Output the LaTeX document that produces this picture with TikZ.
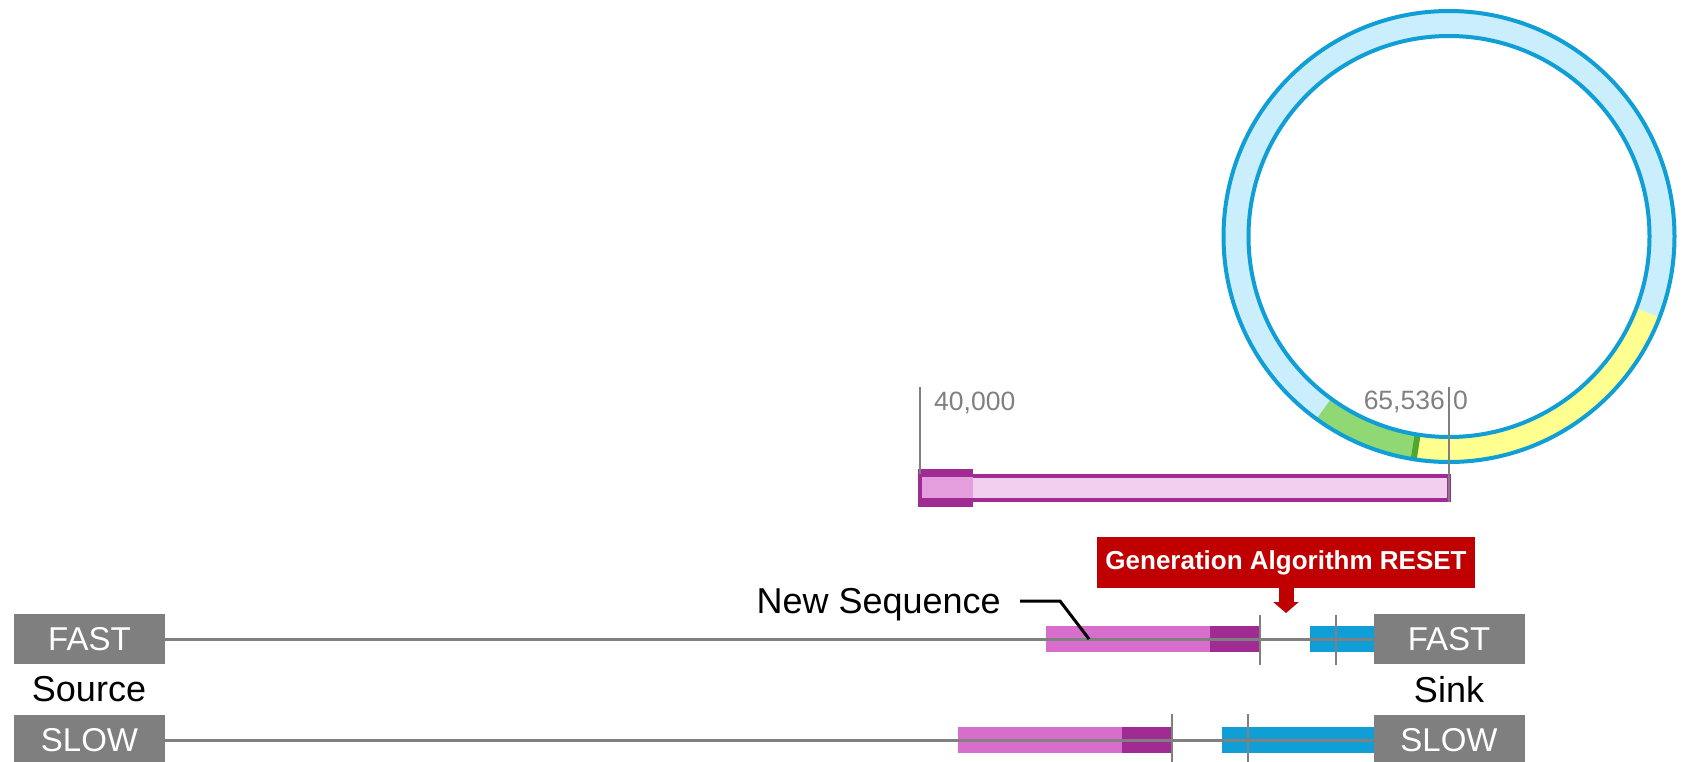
\documentclass[tikz,border=0pt]{standalone}
\usepackage{fontspec}
\setmainfont{Liberation Sans}
\usetikzlibrary{arrows.meta}

\definecolor{ringblue}{RGB}{15,158,213}
\definecolor{ringfill}{RGB}{202,238,251}
\definecolor{ringyellow}{RGB}{255,255,143}
\definecolor{ringgreen}{RGB}{143,216,115}
\definecolor{darkgreen}{RGB}{78,167,46}
\definecolor{seqpurple}{RGB}{160,43,147}
\definecolor{seqpink}{RGB}{216,110,204}
\definecolor{barpink}{RGB}{242,207,238}
\definecolor{blockpink}{RGB}{228,158,221}
\definecolor{boxgray}{RGB}{127,127,127}
\definecolor{linegray}{RGB}{128,128,128}
\definecolor{resetred}{RGB}{192,0,0}

\tikzset{
  endbox/.style={fill=boxgray, text=white, minimum width=151, minimum height=50, inner sep=0pt, font=\fontsize{33}{39}\selectfont},
  wire/.style={draw=linegray, line width=3},
  cutline/.style={draw=linegray, line width=2},
  lbl/.style={inner sep=0pt, font=\fontsize{36}{43}\selectfont},
  numlbl/.style={text=linegray, inner sep=0pt, font=\fontsize{26.5}{31}\selectfont},
  seqleader/.style={draw=black, line width=3},
  resetbox/.style={fill=resetred, text=white, minimum width=378, minimum height=51, inner sep=0pt, font=\fontsize{26}{31}\selectfont\bfseries},
  resetarrow/.style={draw=resetred, line width=15, -{Triangle[width=25pt,length=11pt]}},
}

\begin{document}
\begin{tikzpicture}[x=1pt,y=1pt,yscale=-1,xscale=1]
\useasboundingbox (0,0) rectangle (1682,761);
\clip (0,0) rectangle (1682,761);

% counter ring
\draw [ringfill, line width=25] (1449,236.5) circle (213);
\draw [ringyellow, line width=25] (1449,236.5) ++(21:213) arc (21:99:213);
\draw [ringgreen, line width=25] (1449,236.5) ++(99:213) arc (99:126:213);
\draw [darkgreen, line width=25] (1449,236.5) ++(98.2:213) arc (98.2:99.8:213);
\draw [ringblue, line width=4] (1449,236.5) circle (225.5) (1449,236.5) circle (200.5);

% window bar
\draw [seqpurple, fill=barpink, line width=4] (921,476) rectangle (1449,500);
\fill [seqpurple] (918,469) rectangle (973,507);
\fill [blockpink] (922,477) rectangle (973,498);
\draw [cutline] (920,387) -- (920,474);
\draw [cutline] (1449,387) -- (1449,502);
\draw (934,410) node [numlbl, anchor=base west] (lo) {40,000};
\draw (1445,409) node [numlbl, anchor=base east] (hi) {65,536};
\draw (1453,409) node [numlbl, anchor=base west] (zero) {0};

% sources and sinks
\draw (89.5,639) node [endbox] (fastsrc) {FAST};
\draw (1449,639) node [endbox] (fastsnk) {FAST};
\draw (89.5,740) node [endbox] (slowsrc) {SLOW};
\draw (1449,740) node [endbox] (slowsnk) {SLOW};
\draw (89,701) node [lbl, anchor=base] (src) {Source};
\draw (1449,702) node [lbl, anchor=base] (snk) {Sink};

% fast stream
\fill [seqpink] (1046,626) rectangle (1210,652);
\fill [seqpurple] (1210,626) rectangle (1260,652);
\fill [ringblue] (1310,626) rectangle (1373.5,652);
\draw [wire] (fastsrc) -- (fastsnk);
\draw [cutline] (1260,615) -- (1260,665);
\draw [cutline] (1336,615) -- (1336,665);

% slow stream
\fill [seqpink] (958,727) rectangle (1122,753);
\fill [seqpurple] (1122,727) rectangle (1172,753);
\fill [ringblue] (1222,727) rectangle (1373.5,753);
\draw [wire] (slowsrc) -- (slowsnk);
\draw [cutline] (1172,714) -- (1172,765);
\draw [cutline] (1248,714) -- (1248,765);

% new sequence callout
\draw (1001,613) node [lbl, anchor=base east] (newseq) {New Sequence};
\coordinate (newstart) at (1020,601);
\coordinate (newbend) at (1060,601);
\coordinate (newtip) at (1089,639);
\draw [seqleader] (newstart) -- (newbend) -- (newtip);

% reset marker
\draw (1286,562.5) node [resetbox] (reset) {Generation Algorithm RESET};
\coordinate (resettip) at (1286,613);
\draw [resetarrow] (reset.south) -- (resettip);
\end{tikzpicture}
\end{document}
